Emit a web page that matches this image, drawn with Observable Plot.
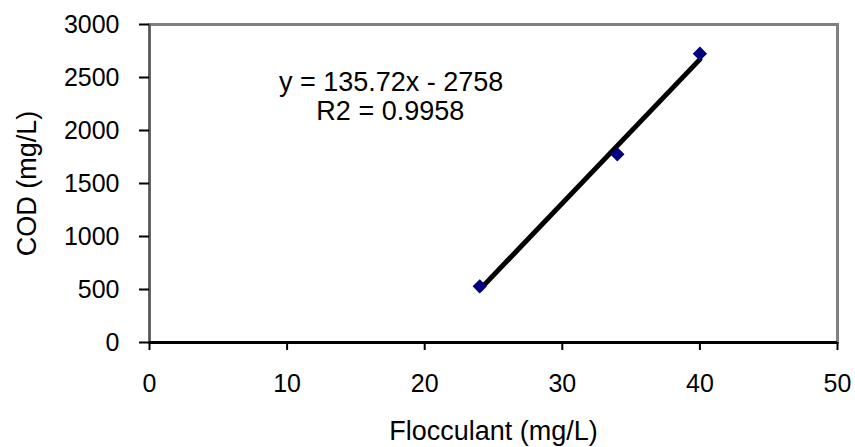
<!DOCTYPE html>
<html>
<head>
<meta charset="utf-8">
<script src="https://cdn.jsdelivr.net/npm/d3@7"></script>
<script src="https://cdn.jsdelivr.net/npm/@observablehq/plot@0.6"></script>
<style>
  html, body { margin: 0; padding: 0; background: #fff; }
  #chart { width: 855px; height: 447px; }
</style>
</head>
<body>
<div id="chart"></div>
<script>
const flocculant = [24, 34, 40];
const cod = [530, 1775, 2725];
const trendX = [24, 40];
const trendY = [499, 2671];
const xTicks = [0, 10, 20, 30, 40, 50];
const yTicks = [0, 500, 1000, 1500, 2000, 2500, 3000];
const equationText = "y = 135.72x - 2758";
const r2Text = "R2 = 0.9958";
const xLabel = "Flocculant (mg/L)";
const yLabel = "COD (mg/L)";

const points = flocculant.map((x, i) => ({x, y: cod[i]}));
const trend = trendX.map((x, i) => ({x, y: trendY[i]}));

const chart = Plot.plot({
  width: 855,
  height: 447,
  marginLeft: 149,
  marginRight: 18,
  marginTop: 24,
  marginBottom: 105,
  style: {fontFamily: "'Liberation Sans', Arial, sans-serif", fontSize: "25px", color: "#000", background: "#fff"},
  x: {domain: [0, 50]},
  y: {domain: [0, 3000]},
  marks: [
    Plot.frame({stroke: "#808080", strokeWidth: 3}),
    Plot.ruleX([0], {stroke: "#555", strokeWidth: 2}),
    Plot.ruleY([0], {stroke: "#000", strokeWidth: 3}),
    Plot.axisX({ticks: xTicks, tickFormat: d3.format("d"), tickSize: 8, tickPadding: 24, strokeWidth: 2, fontSize: 25,
      label: null}),
    Plot.axisY({ticks: yTicks, tickFormat: d3.format("d"), tickSize: 10, tickPadding: 20, strokeWidth: 2, fontSize: 25,
      label: null}),
    Plot.text([xLabel], {frameAnchor: "bottom", dy: 97, text: d => d, fontSize: 27}),
    Plot.text([yLabel], {x: () => -8.85, y: () => 1500, rotate: -90, text: d => d, fontSize: 27, clip: false}),
    Plot.line(trend, {x: "x", y: "y", stroke: "#000", strokeWidth: 5}),
    Plot.dot(points, {x: "x", y: "y", symbol: "diamond2", r: 5.5, fill: "#000080", stroke: "#000080"}),
    Plot.text([equationText], {x: 17.56, y: 2450, text: d => d, fontSize: 27, textAnchor: "middle"}),
    Plot.text([r2Text], {x: 17.5, y: 2180, text: d => d, fontSize: 27, textAnchor: "middle"})
  ]
});
document.getElementById("chart").appendChild(chart);
</script>
</body>
</html>
